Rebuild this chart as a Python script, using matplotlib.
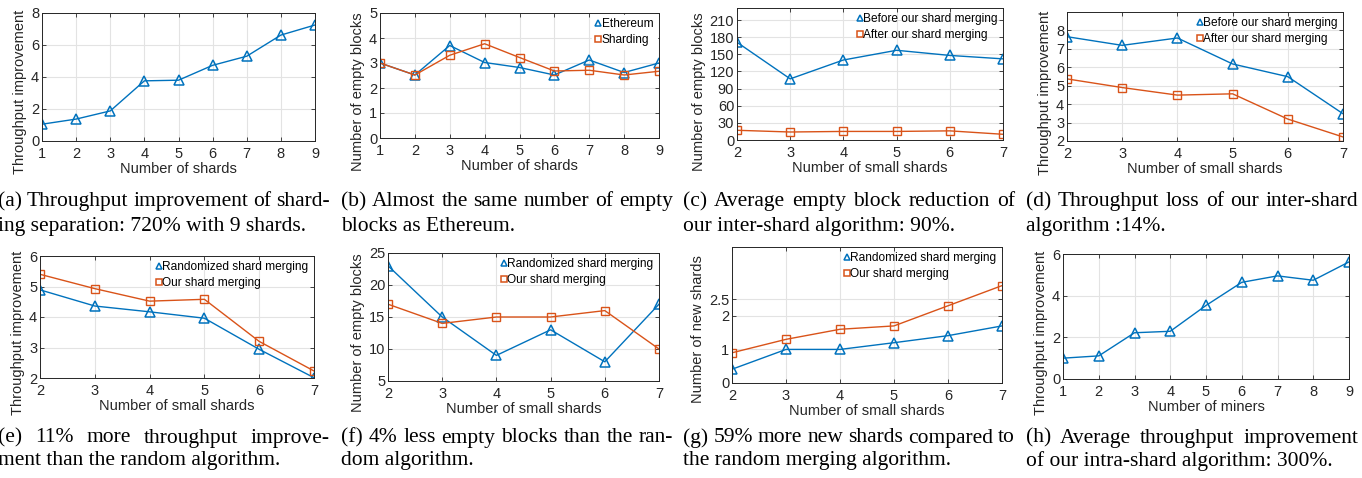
import matplotlib
matplotlib.use("Agg")
import matplotlib.pyplot as plt
import matplotlib.lines as mlines
import numpy as np

# ---- data ----
shards = [1, 2, 3, 4, 5, 6, 7, 8, 9]
small_shards = [2, 3, 4, 5, 6, 7]
miners = [1, 2, 3, 4, 5, 6, 7, 8, 9]

# (a)
tp_sharding = [1.05, 1.37, 1.88, 3.76, 3.80, 4.73, 5.30, 6.62, 7.25]
# (b)
empty_ethereum = [3.0, 2.52, 3.70, 3.02, 2.82, 2.52, 3.12, 2.62, 3.0]
empty_sharding = [3.0, 2.52, 3.31, 3.77, 3.22, 2.68, 2.71, 2.52, 2.67]
# (c)
empty_before = [171, 107, 140, 157, 148, 142]
empty_after = [17, 14, 15, 15, 16, 10]
# (d)
tp_before = [7.66, 7.19, 7.59, 6.18, 5.49, 3.48]
tp_after = [5.37, 4.90, 4.49, 4.56, 3.19, 2.22]
# (e)
tp_random = [4.89, 4.36, 4.17, 3.96, 2.94, 2.01]
tp_ours = [5.40, 4.93, 4.52, 4.58, 3.20, 2.23]
# (f)
empty_random = [23, 15, 9, 13, 8, 17]
empty_ours = [17, 14, 15, 15, 16, 10]
# (g)
new_random = [0.41, 1.0, 1.0, 1.2, 1.41, 1.70]
new_ours = [0.90, 1.30, 1.60, 1.70, 2.30, 2.90]
# (h)
tp_miners = [1.0, 1.11, 2.22, 2.29, 3.53, 4.64, 4.95, 4.74, 5.62]

captions = {
    "a": ["(a) Throughput improvement of shard-", "ing separation: 720% with 9 shards."],
    "b": ["(b) Almost the same number of empty", "blocks as Ethereum."],
    "c": ["(c) Average empty block reduction of", "our inter-shard algorithm: 90%."],
    "d": ["(d) Throughput loss of our inter-shard", "algorithm :14%."],
    "e": ["(e) 11% more throughput improve-", "ment than the random algorithm."],
    "f": ["(f) 4% less empty blocks than the ran-", "dom algorithm."],
    "g": ["(g) 59% more new shards compared to", "the random merging algorithm."],
    "h": ["(h) Average throughput improvement", "of our intra-shard algorithm: 300%."],
}

BLUE = "#0072BD"
ORANGE = "#D95319"
DARK = "#262626"

plt.rcParams["font.family"] = ["Liberation Sans", "DejaVu Sans"]
plt.rcParams["font.size"] = 10.5

W, H = 1362, 478
fig = plt.figure(figsize=(W / 100, H / 100), dpi=100)


def make_ax(l, r, t, b):
    ax = fig.add_axes([l / W, 1 - b / H, (r - l) / W, (b - t) / H])
    ax.grid(True, color="#E3E3E3", lw=0.8)
    ax.set_axisbelow(True)
    for s in ax.spines.values():
        s.set_color(DARK)
        s.set_linewidth(0.7)
    ax.tick_params(direction="in", length=3, width=0.6, colors=DARK,
                   top=True, right=True, labelsize=10.5)
    ax.tick_params(axis="x", pad=4)
    ax.tick_params(axis="y", pad=2)
    return ax


def labels(ax, xl, yl, ypos=0.37):
    ax.set_xlabel(xl, labelpad=1, color=DARK)
    ax.set_ylabel(yl, labelpad=3, color=DARK)
    ax.yaxis.label.set_y(ypos)


def tri(ax, x, y, c, label=None):
    ax.plot(x, y, color=c, lw=1.0, marker="^", ms=7.5, mfc="none",
            mew=1.1, label=label)


def sq(ax, x, y, c, label=None):
    ax.plot(x, y, color=c, lw=1.0, marker="s", ms=6, mfc="none",
            mew=1.0, label=label)


def leg(ax, white=False):
    h, lab = ax.get_legend_handles_labels()
    hh = [mlines.Line2D([], [], ls="none", marker=x.get_marker(),
                        color=x.get_color(), mfc="none", ms=5, mew=1.1)
          for x in h]
    lg = ax.legend(hh, lab, loc="upper right", fontsize=8.6, frameon=white,
                   handlelength=0.6, handletextpad=0.0, borderpad=0.25,
                   labelspacing=0.3, borderaxespad=0.2)
    if white:
        lg.get_frame().set_edgecolor("white")
        lg.get_frame().set_alpha(1)
    return lg


# (a)
ax = make_ax(42, 315, 13, 141)
tri(ax, shards, tp_sharding, BLUE)
ax.set_xlim(1, 9); ax.set_ylim(0, 8)
ax.set_xticks(shards); ax.set_yticks([0, 2, 4, 6, 8])
labels(ax, "Number of shards", "Throughput improvement", 0.38)

# (b)
ax = make_ax(380, 659, 13, 138)
tri(ax, shards, empty_ethereum, BLUE, "Ethereum")
sq(ax, shards, empty_sharding, ORANGE, "Sharding")
ax.set_xlim(1, 9); ax.set_ylim(0, 5)
ax.set_xticks(shards); ax.set_yticks([0, 1, 2, 3, 4, 5])
labels(ax, "Number of shards", "Number of empty blocks", 0.37)
leg(ax, white=True)

# (c)
ax = make_ax(737, 1003, 8, 140)
tri(ax, small_shards, empty_before, BLUE, "Before our shard merging")
sq(ax, small_shards, empty_after, ORANGE, "After our shard merging")
ax.set_xlim(2, 7); ax.set_ylim(0, 231)
ax.set_xticks(small_shards); ax.set_yticks(np.arange(0, 211, 30))
labels(ax, "Number of small shards", "Number of empty blocks", 0.364)
leg(ax)

# (d)
ax = make_ax(1067, 1343, 12, 141)
tri(ax, small_shards, tp_before, BLUE, "Before our shard merging")
sq(ax, small_shards, tp_after, ORANGE, "After our shard merging")
ax.set_xlim(2, 7); ax.set_ylim(2, 9)
ax.set_xticks(small_shards); ax.set_yticks([2, 3, 4, 5, 6, 7, 8])
labels(ax, "Number of small shards", "Throughput improvement", 0.372)
leg(ax)

# (e)
ax = make_ax(40, 314, 256, 378)
tri(ax, small_shards, tp_random, BLUE, "Randomized shard merging")
sq(ax, small_shards, tp_ours, ORANGE, "Our shard merging")
ax.set_xlim(2, 7); ax.set_ylim(2, 6)
ax.set_xticks(small_shards); ax.set_yticks([2, 3, 4, 5, 6])
labels(ax, "Number of small shards", "Throughput improvement", 0.369)
leg(ax)

# (f)
ax = make_ax(388, 659, 253, 381)
tri(ax, small_shards, empty_random, BLUE, "Randomized shard merging")
sq(ax, small_shards, empty_ours, ORANGE, "Our shard merging")
ax.set_xlim(2, 7); ax.set_ylim(5, 25)
ax.set_xticks(small_shards); ax.set_yticks([5, 10, 15, 20, 25])
labels(ax, "Number of small shards", "Number of empty blocks", 0.375)
leg(ax)

# (g)
ax = make_ax(732, 1002, 247, 383)
tri(ax, small_shards, new_random, BLUE, "Randomized shard merging")
sq(ax, small_shards, new_ours, ORANGE, "Our shard merging")
ax.set_xlim(2, 7); ax.set_ylim(0, 4.05)
ax.set_xticks(small_shards); ax.set_yticks([0, 1, 2, 2.5])
ax.set_yticklabels(["0", "1", "2", "2.5"])
labels(ax, "Number of small shards", "Number of new shards", 0.40)
leg(ax)

# (h)
ax = make_ax(1063, 1349, 254, 379)
tri(ax, miners, tp_miners, BLUE)
ax.set_xlim(1, 9); ax.set_ylim(0, 6)
ax.set_xticks(miners); ax.set_yticks([0, 2, 4, 6])
labels(ax, "Number of miners", "Throughput improvement", 0.368)

# ---- captions (justified first line, like the paper) ----
renderer = fig.canvas.get_renderer()
CAP_FS = 15.5
CAP_FONT = ["Liberation Serif", "DejaVu Serif"]


def caption(x0, width, y_lines, lines):
    for i, (line, y) in enumerate(zip(lines, y_lines)):
        yy = 1 - y / H
        if i == len(lines) - 1:
            fig.text(x0 / W, yy, line, fontsize=CAP_FS, family=CAP_FONT,
                     va="center", ha="left")
            continue
        words = line.split(" ")
        texts = [fig.text(0, yy, w, fontsize=CAP_FS, family=CAP_FONT,
                          va="center", ha="left") for w in words]
        widths = [t.get_window_extent(renderer).width for t in texts]
        gap = (width - sum(widths)) / (len(words) - 1)
        x = x0
        for t, wd in zip(texts, widths):
            t.set_x(x / W)
            x += wd + gap


col_x = [-2, 341, 683, 1026]
cap_w = 332
row1 = [202, 226]
row2 = [438, 461]
for k, cx in zip("abcd", col_x):
    caption(cx, cap_w, row1, captions[k])
for k, cx in zip("efgh", col_x):
    caption(cx, cap_w, row2, captions[k])

fig.savefig("out.png", dpi=100)
